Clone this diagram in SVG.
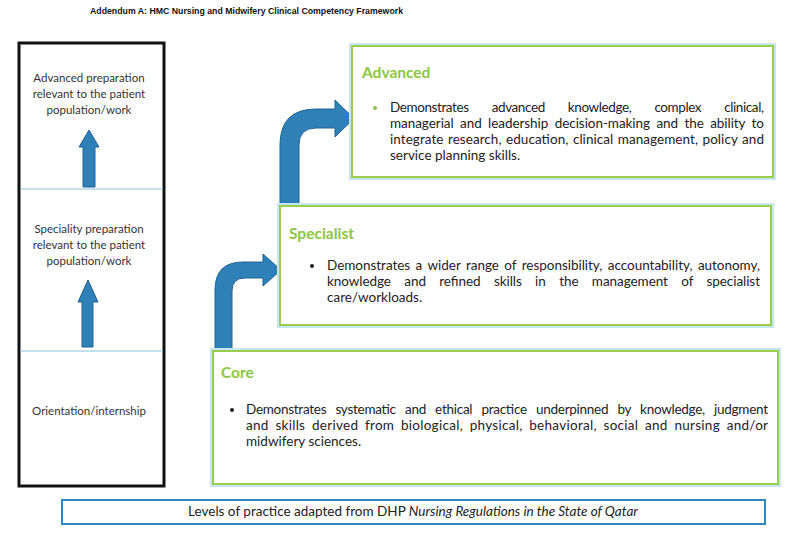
<svg xmlns="http://www.w3.org/2000/svg" width="800" height="537" viewBox="0 0 800 537">
<defs>
<style>
.hdr{font-family:"Liberation Sans",Arial,sans-serif;font-weight:bold;font-size:9.8px;fill:#111}
.lt{font-family:Lato,"Open Sans",sans-serif;font-size:11.5px;fill:#333;text-anchor:middle}
.tt{font-family:Lato,"Open Sans",sans-serif;font-size:15.5px;font-weight:bold;fill:#8cc63f}
.bt{font-family:Lato,"Open Sans",sans-serif;font-size:13.5px;fill:#222}
.glow{fill:none;stroke:#c4e6f5;stroke-width:6}
.box{fill:#fff;stroke:#9acd4a;stroke-width:2}
.arr{fill:#2e80b6;stroke:#1f6394;stroke-width:1}
.div{stroke:#8cc4e0;stroke-width:1.2}
</style>
</defs>
<rect width="800" height="537" fill="#fff"/>
<text class="hdr" x="90" y="14" textLength="313" lengthAdjust="spacingAndGlyphs">Addendum A: HMC Nursing and Midwifery Clinical Competency Framework</text>

<g id="left-panel">
<rect x="19" y="43" width="145" height="443" fill="#fff" stroke="#111" stroke-width="3"/>
<line class="div" x1="20" y1="189" x2="163" y2="189"/>
<line class="div" x1="20" y1="351" x2="163" y2="351"/>
<text class="lt" x="89" y="82">Advanced preparation</text>
<text class="lt" x="89" y="98">relevant to the patient</text>
<text class="lt" x="89" y="114">population/work</text>
<path class="arr" d="M83,187 L83,147 L79,147 L89,130 L99,147 L95,147 L95,187 Z"/>
<text class="lt" x="89" y="233">Speciality preparation</text>
<text class="lt" x="89" y="249">relevant to the patient</text>
<text class="lt" x="89" y="265">population/work</text>
<path class="arr" d="M82,347 L82,302 L78,302 L88,280 L98,302 L93,302 L93,347 Z"/>
<text class="lt" x="89" y="415">Orientation/internship</text>
</g>

<g id="connectors">
<path class="arr" d="M215,350 L215,290 Q215,262 243,262 L263,262 L263,254 L281,270 L263,286 L263,278 L245,278 Q232,278 232,291 L232,350 Z"/>
<path class="arr" d="M280,206 L280,145 Q280,109 316,109 L335,109 L335,100 L354,118.5 L335,137 L335,128 L316,128 Q299,128 299,145 L299,206 Z"/>
</g>

<g id="advanced">
<rect class="glow" x="352" y="46" width="421" height="131"/>
<rect class="box" x="352" y="46" width="421" height="131"/>
<text class="tt" x="362" y="78">Advanced</text>
<circle cx="375" cy="108" r="2" fill="#8cc63f"/>
<text class="bt" x="390" y="112" word-spacing="20" textLength="374" lengthAdjust="spacing">Demonstrates advanced knowledge, complex clinical,</text>
<text class="bt" x="390" y="128" word-spacing="3" textLength="374" lengthAdjust="spacing">managerial and leadership decision-making and the ability to</text>
<text class="bt" x="390" y="144" word-spacing="1" textLength="374" lengthAdjust="spacing">integrate research, education, clinical management, policy and</text>
<text class="bt" x="390" y="160">service planning skills.</text>
</g>

<g id="specialist">
<rect class="glow" x="280" y="206" width="491" height="119"/>
<rect class="box" x="280" y="206" width="491" height="119"/>
<text class="tt" x="289" y="239">Specialist</text>
<circle cx="312" cy="266" r="2" fill="#222"/>
<text class="bt" x="327" y="270" word-spacing="2" textLength="433" lengthAdjust="spacing">Demonstrates a wider range of responsibility, accountability, autonomy,</text>
<text class="bt" x="327" y="286" word-spacing="10" textLength="433" lengthAdjust="spacing">knowledge and refined skills in the management of specialist</text>
<text class="bt" x="327" y="302">care/workloads.</text>
</g>

<g id="core">
<rect class="glow" x="213" y="351" width="565" height="133"/>
<rect class="box" x="213" y="351" width="565" height="133"/>
<text class="tt" x="221" y="378">Core</text>
<circle cx="232" cy="410" r="2" fill="#222"/>
<text class="bt" x="246" y="414" word-spacing="6" textLength="522" lengthAdjust="spacing">Demonstrates systematic and ethical practice underpinned by knowledge, judgment</text>
<text class="bt" x="246" y="430" word-spacing="3" textLength="522" lengthAdjust="spacing">and skills derived from biological, physical, behavioral, social and nursing and/or</text>
<text class="bt" x="246" y="446">midwifery sciences.</text>
</g>

<g id="caption">
<rect x="62" y="500" width="703" height="24" fill="#fff" stroke="#2e86c1" stroke-width="2"/>
<text class="bt" x="413" y="516" text-anchor="middle">Levels of practice adapted from DHP <tspan font-style="italic">Nursing Regulations in the State of Qatar</tspan></text>
</g>
</svg>
